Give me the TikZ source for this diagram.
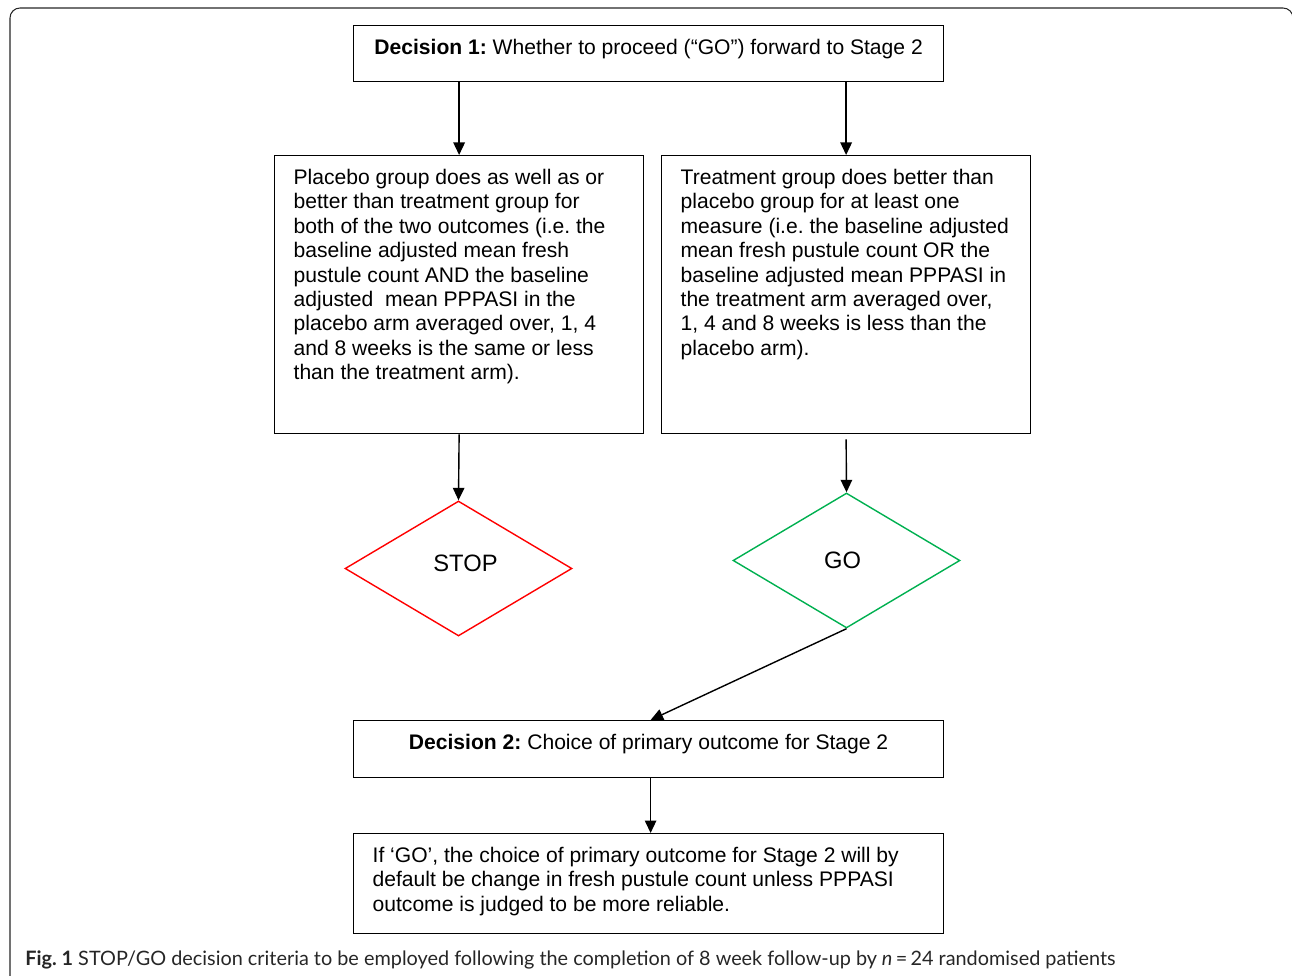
\documentclass[tikz,border=0pt]{standalone}
\usepackage{fontspec}
\setmainfont{Liberation Sans}
\newfontfamily\capfont{Lato}
\usetikzlibrary{arrows.meta,positioning,shapes.geometric}
\newcommand{\topbox}[3]{\parbox[c][#2][t]{#1}{#3}}
\frenchspacing

\begin{document}
\begin{tikzpicture}[
  x=0.02cm, y=-0.02cm,
  box/.style={draw, line width=0.75pt, anchor=north west,
    inner xsep=0.38cm, inner ysep=0.27cm,
    font=\fontsize{12}{13.9}\selectfont},
  diam/.style={diamond, draw, line width=0.8pt, inner sep=0pt,
    minimum width=4.54cm, minimum height=2.7cm, aspect=1.68,
    font=\fontsize{13.5}{15}\selectfont},
  arr/.style={-{Triangle[length=0.25cm,width=0.23cm]}, line width=0.8pt},
  frame/.style={draw=black!85, line width=0.6pt, rounded corners=0.2cm},
]
\useasboundingbox (0,0) rectangle (1292,976);

% outer frame
\draw[frame] (10,990) -- (10,8) -- (1293,8) -- (1293,990);

\node[box] (dec1) at (353,25)
  {\topbox{11.04cm}{0.58cm}{\centering\textbf{Decision 1:} Whether to proceed (“GO”) forward to Stage 2}};

\node[box] (left) at (274,155)
  {\topbox{6.62cm}{5.02cm}{\raggedright
    Placebo group does as well as or\\
    better than treatment group for\\
    both of the two outcomes (i.e. the\\
    baseline adjusted mean fresh\\
    pustule count AND the baseline\\
    adjusted\ \ mean PPPASI in the\\
    placebo arm averaged over, 1, 4\\
    and 8 weeks is the same or less\\
    than the treatment arm).}};
\node[box] (right) at (661,155)
  {\topbox{6.62cm}{5.02cm}{\raggedright
    Treatment group does better than\\
    placebo group for at least one\\
    measure (i.e. the baseline adjusted\\
    mean fresh pustule count OR the\\
    baseline adjusted mean PPPASI in\\
    the treatment arm averaged over,\\
    1, 4 and 8 weeks is less than the\\
    placebo arm).}};

\node[diam, draw=red] (stop) at (458.5,568.5) {\hspace*{0.28cm}\raisebox{0.22cm}{STOP}};
\node[diam, draw={rgb,255:red,0;green,176;blue,80}] (go) at (846.5,560.5) {GO\hspace*{0.16cm}};

\node[box] (dec2) at (353,720)
  {\topbox{11.04cm}{0.6cm}{\centering\textbf{Decision 2:} Choice of primary outcome for Stage 2}};
\node[box] (final) at (353,833)
  {\topbox{11.04cm}{1.46cm}{\raggedright
    If ‘GO’, the choice of primary outcome for Stage 2 will by\\
    default be change in fresh pustule count unless PPPASI\\
    outcome is judged to be more reliable.}};

\draw[arr] (dec1.south -| left.north) -- (left.north);
\draw[arr] (dec1.south -| right.north) -- (right.north);
\draw[arr] (left.south) -- (stop.north);
\draw[arr] ([yshift=-0.1cm]right.south) -- (go.north);
\draw[arr] (go.south) -- ([xshift=0.04cm]dec2.north);
\draw[arr] ([xshift=0.04cm]dec2.south) -- ([xshift=0.04cm]final.north);

% caption
\node[anchor=west, inner sep=0pt, text=black!85,
  font=\capfont\fontsize{11.3}{13}\selectfont] (caption) at (25,960)
  {\textbf{Fig. 1} STOP/GO decision criteria to be employed following the completion of 8 week follow-up by \textit{n}\,=\,24 randomised patients};
\end{tikzpicture}
\end{document}
